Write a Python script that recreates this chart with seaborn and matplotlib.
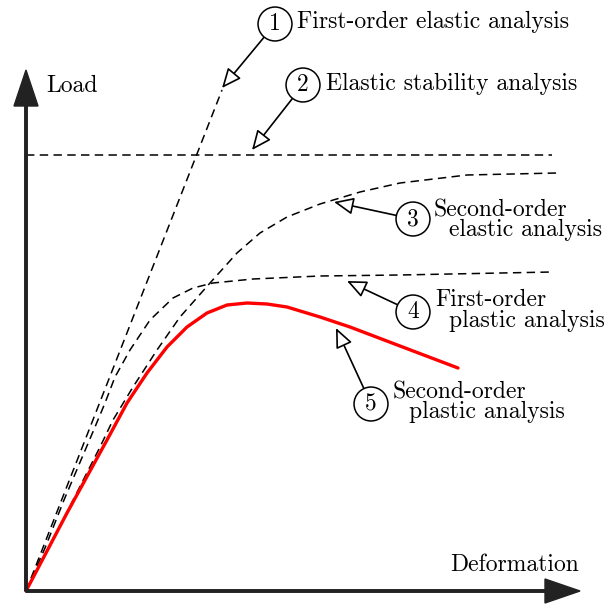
import numpy as np
import pandas as pd
import seaborn as sns
import matplotlib
matplotlib.use('Agg')
from matplotlib import pyplot as plt

# schematic curves, units are roughly pixels from the origin of the axes
first_order_elastic_x = [0, 196]
first_order_elastic_y = [0, 501]

elastic_stability_x = [0, 526]
elastic_stability_y = [436, 436]

second_order_elastic_x = [0, 37, 74, 87, 107, 131, 154, 184, 211, 234, 261, 294, 334, 374, 441, 531]
second_order_elastic_y = [0, 71, 144, 171, 204, 241, 274, 308, 338, 358, 374, 387, 399, 408, 416, 418]

first_order_plastic_x = [0, 19, 38, 69, 79, 89, 104, 124, 147, 167, 187, 227, 294, 374, 526]
first_order_plastic_y = [0, 43, 91, 164, 188, 214, 241, 271, 293, 303, 308, 312, 315, 316, 319]

second_order_plastic_x = [0, 41, 81, 101, 121, 141, 161, 181, 201, 221, 241, 261, 294, 324, 374, 432]
second_order_plastic_y = [0, 78, 151, 188, 218, 244, 264, 278, 286, 288, 287, 284, 274, 264, 245, 223]

# numbered callouts: number, circle centre, arrow tip
callout_numbers = ['1', '2', '3', '4', '5']
callout_centres = [(249, 567), (277, 506), (387, 372), (387, 279), (345, 187)]
callout_tips = [(196, 503), (226, 441), (308, 389), (321, 310), (310, 263)]

# labels next to the callouts
label_texts = ['First-order elastic analysis', 'Elastic stability analysis',
               'Second-order', 'elastic analysis',
               'First-order', 'plastic analysis',
               'Second-order', 'plastic analysis']
label_positions = [(271, 569), (300, 507),
                   (408, 381), (423, 361),
                   (409, 291), (423, 270),
                   (367, 199), (383, 179)]

sns.set_theme(style='white')
plt.rcParams['font.family'] = ['cmr10', 'DejaVu Serif']
plt.rcParams['mathtext.fontset'] = 'cm'
plt.rcParams['axes.unicode_minus'] = False
plt.rcParams['text.color'] = 'black'

fig = plt.figure(figsize=(6.06, 6.04), dpi=100)
ax = fig.add_axes([0, 0, 1, 1])
ax.set_xlim(-26, 580)
ax.set_ylim(-13, 591)
ax.axis('off')

dash = (0, (5.5, 3.5))
for xs, ys in [(first_order_elastic_x, first_order_elastic_y),
               (elastic_stability_x, elastic_stability_y),
               (second_order_elastic_x, second_order_elastic_y),
               (first_order_plastic_x, first_order_plastic_y)]:
    sns.lineplot(x=xs, y=ys, sort=False, estimator=None, color='black',
                 linestyle=dash, linewidth=1.1, ax=ax)

sns.lineplot(x=second_order_plastic_x, y=second_order_plastic_y, sort=False, estimator=None,
             color='#ff0000', linewidth=2.4, ax=ax)

# axes with arrow heads
axis_color = '#222222'
ax.arrow(0, 0, 554, 0, width=2.5, head_width=24, head_length=35,
         length_includes_head=True, color=axis_color, zorder=5)
ax.arrow(0, 0, 0, 521, width=2.5, head_width=24, head_length=36,
         length_includes_head=True, color=axis_color, zorder=5)
ax.text(20, 505, 'Load', fontsize=17, ha='left', va='center')
ax.text(553, 26, 'Deformation', fontsize=17, ha='right', va='center')

for num, centre, tip in zip(callout_numbers, callout_centres, callout_tips):
    ax.annotate(num, xy=tip, xytext=centre, fontsize=17, ha='center', va='center',
                bbox=dict(boxstyle='circle,pad=0.25', fc='white', ec='black', lw=1.1),
                arrowprops=dict(arrowstyle='-|>,head_length=0.8,head_width=0.35',
                                fc='white', ec='black', lw=1.2,
                                shrinkA=0, shrinkB=0, mutation_scale=15))

for txt, pos in zip(label_texts, label_positions):
    ax.text(pos[0], pos[1], txt, fontsize=17, ha='left', va='center')

plt.savefig('out.png', dpi=100)
